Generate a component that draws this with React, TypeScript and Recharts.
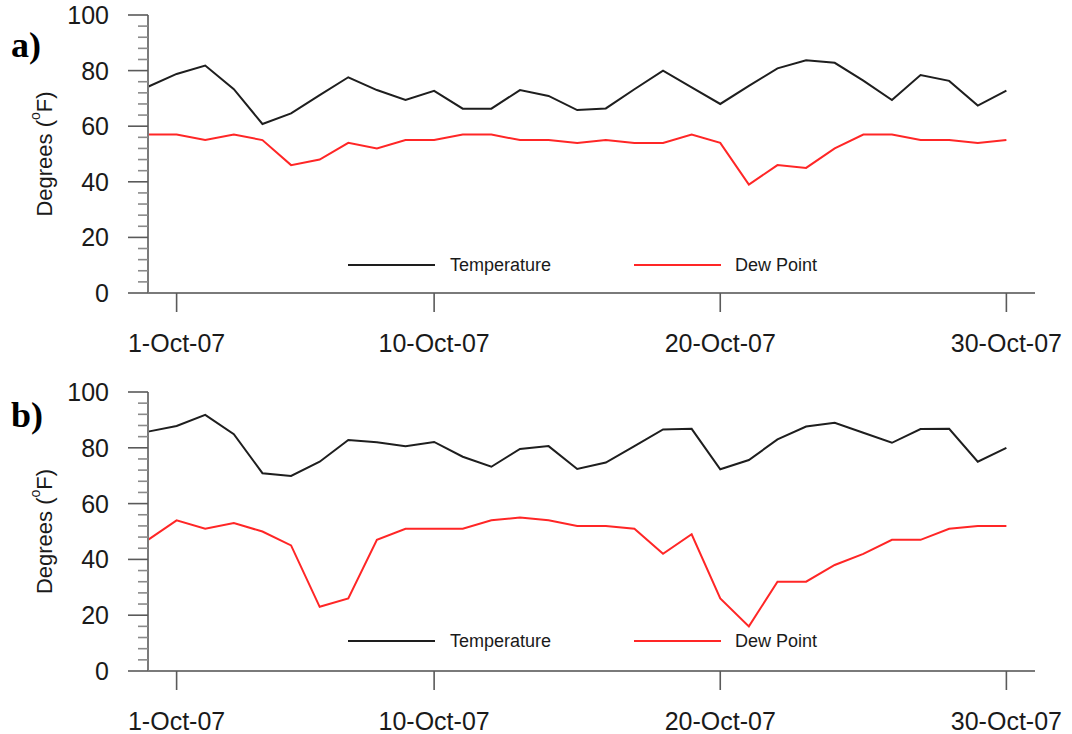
import { LineChart, Line, XAxis, YAxis, Legend } from "recharts";

const days = [0, 1, 2, 3, 4, 5, 6, 7, 8, 9, 10, 11, 12, 13, 14, 15, 16, 17, 18, 19, 20, 21, 22, 23, 24, 25, 26, 27, 28, 29, 30];

const tempA = [74.2, 78.8, 81.8, 73.3, 60.8, 64.6, 71.2, 77.6, 73.0, 69.4, 72.7, 66.3, 66.3, 73.0, 70.9, 65.8, 66.4, 73.3, 80.0, 74.0, 68.0, 74.5, 80.8, 83.7, 82.8, 76.4, 69.4, 78.4, 76.3, 67.4, 72.8];
const dewA = [57, 57, 55, 57, 55, 46, 48, 54, 52, 55, 55, 57, 57, 55, 55, 54, 55, 54, 54, 57, 54, 39, 46, 45, 52, 57, 57, 55, 55, 54, 55];

const tempB = [85.8, 87.8, 91.8, 84.9, 70.9, 69.9, 75.0, 82.8, 82.0, 80.6, 82.1, 76.8, 73.2, 79.6, 80.6, 72.4, 74.7, 80.6, 86.6, 86.8, 72.3, 75.6, 83.0, 87.6, 89.0, 85.4, 81.8, 86.7, 86.8, 75.0, 80.0];
const dewB = [47, 54, 51, 53, 50, 45, 23, 26, 47, 51, 51, 51, 54, 55, 54, 52, 52, 51, 42, 49, 26, 16, 32, 32, 38, 42, 47, 47, 51, 52, 52];

const xTicks = [1, 10, 20, 30];
const xTickLabels = ["1-Oct-07", "10-Oct-07", "20-Oct-07", "30-Oct-07"];
const yTicks = [0, 4, 8, 12, 16, 20, 24, 28, 32, 36, 40, 44, 48, 52, 56, 60, 64, 68, 72, 76, 80, 84, 88, 92, 96, 100];

const FONT = "'Liberation Sans', Arial, Helvetica, sans-serif";
const TEXT = "#1a1a1a";
const FRAME = "#7a7a7a";
const TICK = "#5a5a5a";
const TEMP_COLOR = "#1e1e1e";
const DEW_COLOR = "#ff2626";

const YTick = (props: any) => {
  const { x, y, payload } = props;
  const major = payload.value % 20 === 0;
  return (
    <g>
      <line x1={x - (major ? 20 : 10)} x2={x} y1={y} y2={y} stroke={major ? TICK : "#8a8a8a"} strokeWidth={1.6} />
      {major && (
        <text x={x - 39} y={y + 9} textAnchor="end" fontSize={25} fontFamily={FONT} fill={TEXT}>
          {payload.value}
        </text>
      )}
    </g>
  );
};

const XTick = (props: any) => {
  const { x, y, payload } = props;
  const label = xTickLabels[xTicks.indexOf(payload.value)];
  return (
    <g>
      <line x1={x} x2={x} y1={y} y2={y + 19} stroke={TICK} strokeWidth={1.6} />
      <text x={x} y={y + 59} textAnchor="middle" fontSize={25} fontFamily={FONT} fill={TEXT}>
        {label}
      </text>
    </g>
  );
};

const renderLegend = () => (
  <svg width={1072} height={30} style={{ display: "block" }}>
    <line x1={348} x2={435} y1={15} y2={15} stroke={TEMP_COLOR} strokeWidth={2} />
    <text x={450} y={21} fontSize={18} fontFamily={FONT} fill={TEXT}>Temperature</text>
    <line x1={634} x2={721} y1={15} y2={15} stroke={DEW_COLOR} strokeWidth={2} />
    <text x={735} y={21} fontSize={18} fontFamily={FONT} fill={TEXT}>Dew Point</text>
  </svg>
);

interface PanelProps {
  tag: string;
  tagY: number;
  temp: number[];
  dew: number[];
  height: number;
  xAxisHeight: number;
  legendY: number;
}

function Panel({ tag, tagY, temp, dew, height, xAxisHeight, legendY }: PanelProps) {
  const data = days.map((d, i) => ({ day: d, temperature: temp[i], dewPoint: dew[i] }));

  const yLabel = (props: any) => {
    const vb = props.viewBox || {};
    const cy = (vb.y ?? 15) + (vb.height ?? 278) / 2;
    return (
      <g>
        <text x={11} y={tagY} fontSize={36} fontWeight="bold" fontFamily="'Liberation Serif', 'Times New Roman', serif" fill="#000">
          {tag}
        </text>
        <text
          x={44}
          y={cy}
          transform={`rotate(-90, 44, ${cy})`}
          textAnchor="middle"
          dominantBaseline="central"
          fontSize={22}
          fontFamily={FONT}
          fill={TEXT}
        >
          Degrees (<tspan fontSize={14} dy={-9}>o</tspan>
          <tspan dy={9}>F)</tspan>
        </text>
      </g>
    );
  };

  return (
    <LineChart width={1072} height={height} data={data} margin={{ top: 15, right: 37, left: 0, bottom: 0 }}>
      <XAxis
        xAxisId="bottom"
        dataKey="day"
        type="number"
        domain={[0, 31]}
        ticks={xTicks}
        interval={0}
        height={xAxisHeight}
        tickSize={0}
        tickMargin={0}
        tickLine={false}
        tick={<XTick />}
        axisLine={{ stroke: FRAME, strokeWidth: 2 }}
      />
      <XAxis
        xAxisId="top"
        orientation="top"
        dataKey="day"
        type="number"
        domain={[0, 31]}
        height={0}
        tick={false}
        tickLine={false}
        axisLine={{ stroke: FRAME, strokeWidth: 2 }}
      />
      <YAxis
        yAxisId="left"
        type="number"
        domain={[0, 100]}
        ticks={yTicks}
        interval={0}
        width={148}
        tickSize={0}
        tickMargin={0}
        tickLine={false}
        tick={<YTick />}
        axisLine={{ stroke: FRAME, strokeWidth: 2 }}
        label={{ content: yLabel }}
      />
      <YAxis
        yAxisId="right"
        orientation="right"
        type="number"
        domain={[0, 100]}
        width={0}
        tick={false}
        tickLine={false}
        axisLine={{ stroke: FRAME, strokeWidth: 2 }}
      />
      <Legend
        layout="horizontal"
        verticalAlign="middle"
        align="center"
        wrapperStyle={{ position: "absolute", left: 0, top: legendY - 15, width: 1072, height: 30 }}
        content={renderLegend}
      />
      <Line
        xAxisId="bottom"
        yAxisId="left"
        type="linear"
        dataKey="temperature"
        name="Temperature"
        stroke={TEMP_COLOR}
        strokeWidth={2}
        dot={false}
        isAnimationActive={false}
      />
      <Line
        xAxisId="bottom"
        yAxisId="left"
        type="linear"
        dataKey="dewPoint"
        name="Dew Point"
        stroke={DEW_COLOR}
        strokeWidth={2}
        dot={false}
        isAnimationActive={false}
      />
    </LineChart>
  );
}

export default function App() {
  return (
    <div style={{ position: "absolute", left: 0, top: 0, width: 1072, height: 734, background: "#fff", overflow: "hidden" }}>
      <div style={{ position: "absolute", left: 0, top: 0 }}>
        <Panel tag="a)" tagY={57} temp={tempA} dew={dewA} height={377} xAxisHeight={84} legendY={265} />
      </div>
      <div style={{ position: "absolute", left: 0, top: 377 }}>
        <Panel tag="b)" tagY={50} temp={tempB} dew={dewB} height={357} xAxisHeight={63} legendY={264} />
      </div>
    </div>
  );
}
